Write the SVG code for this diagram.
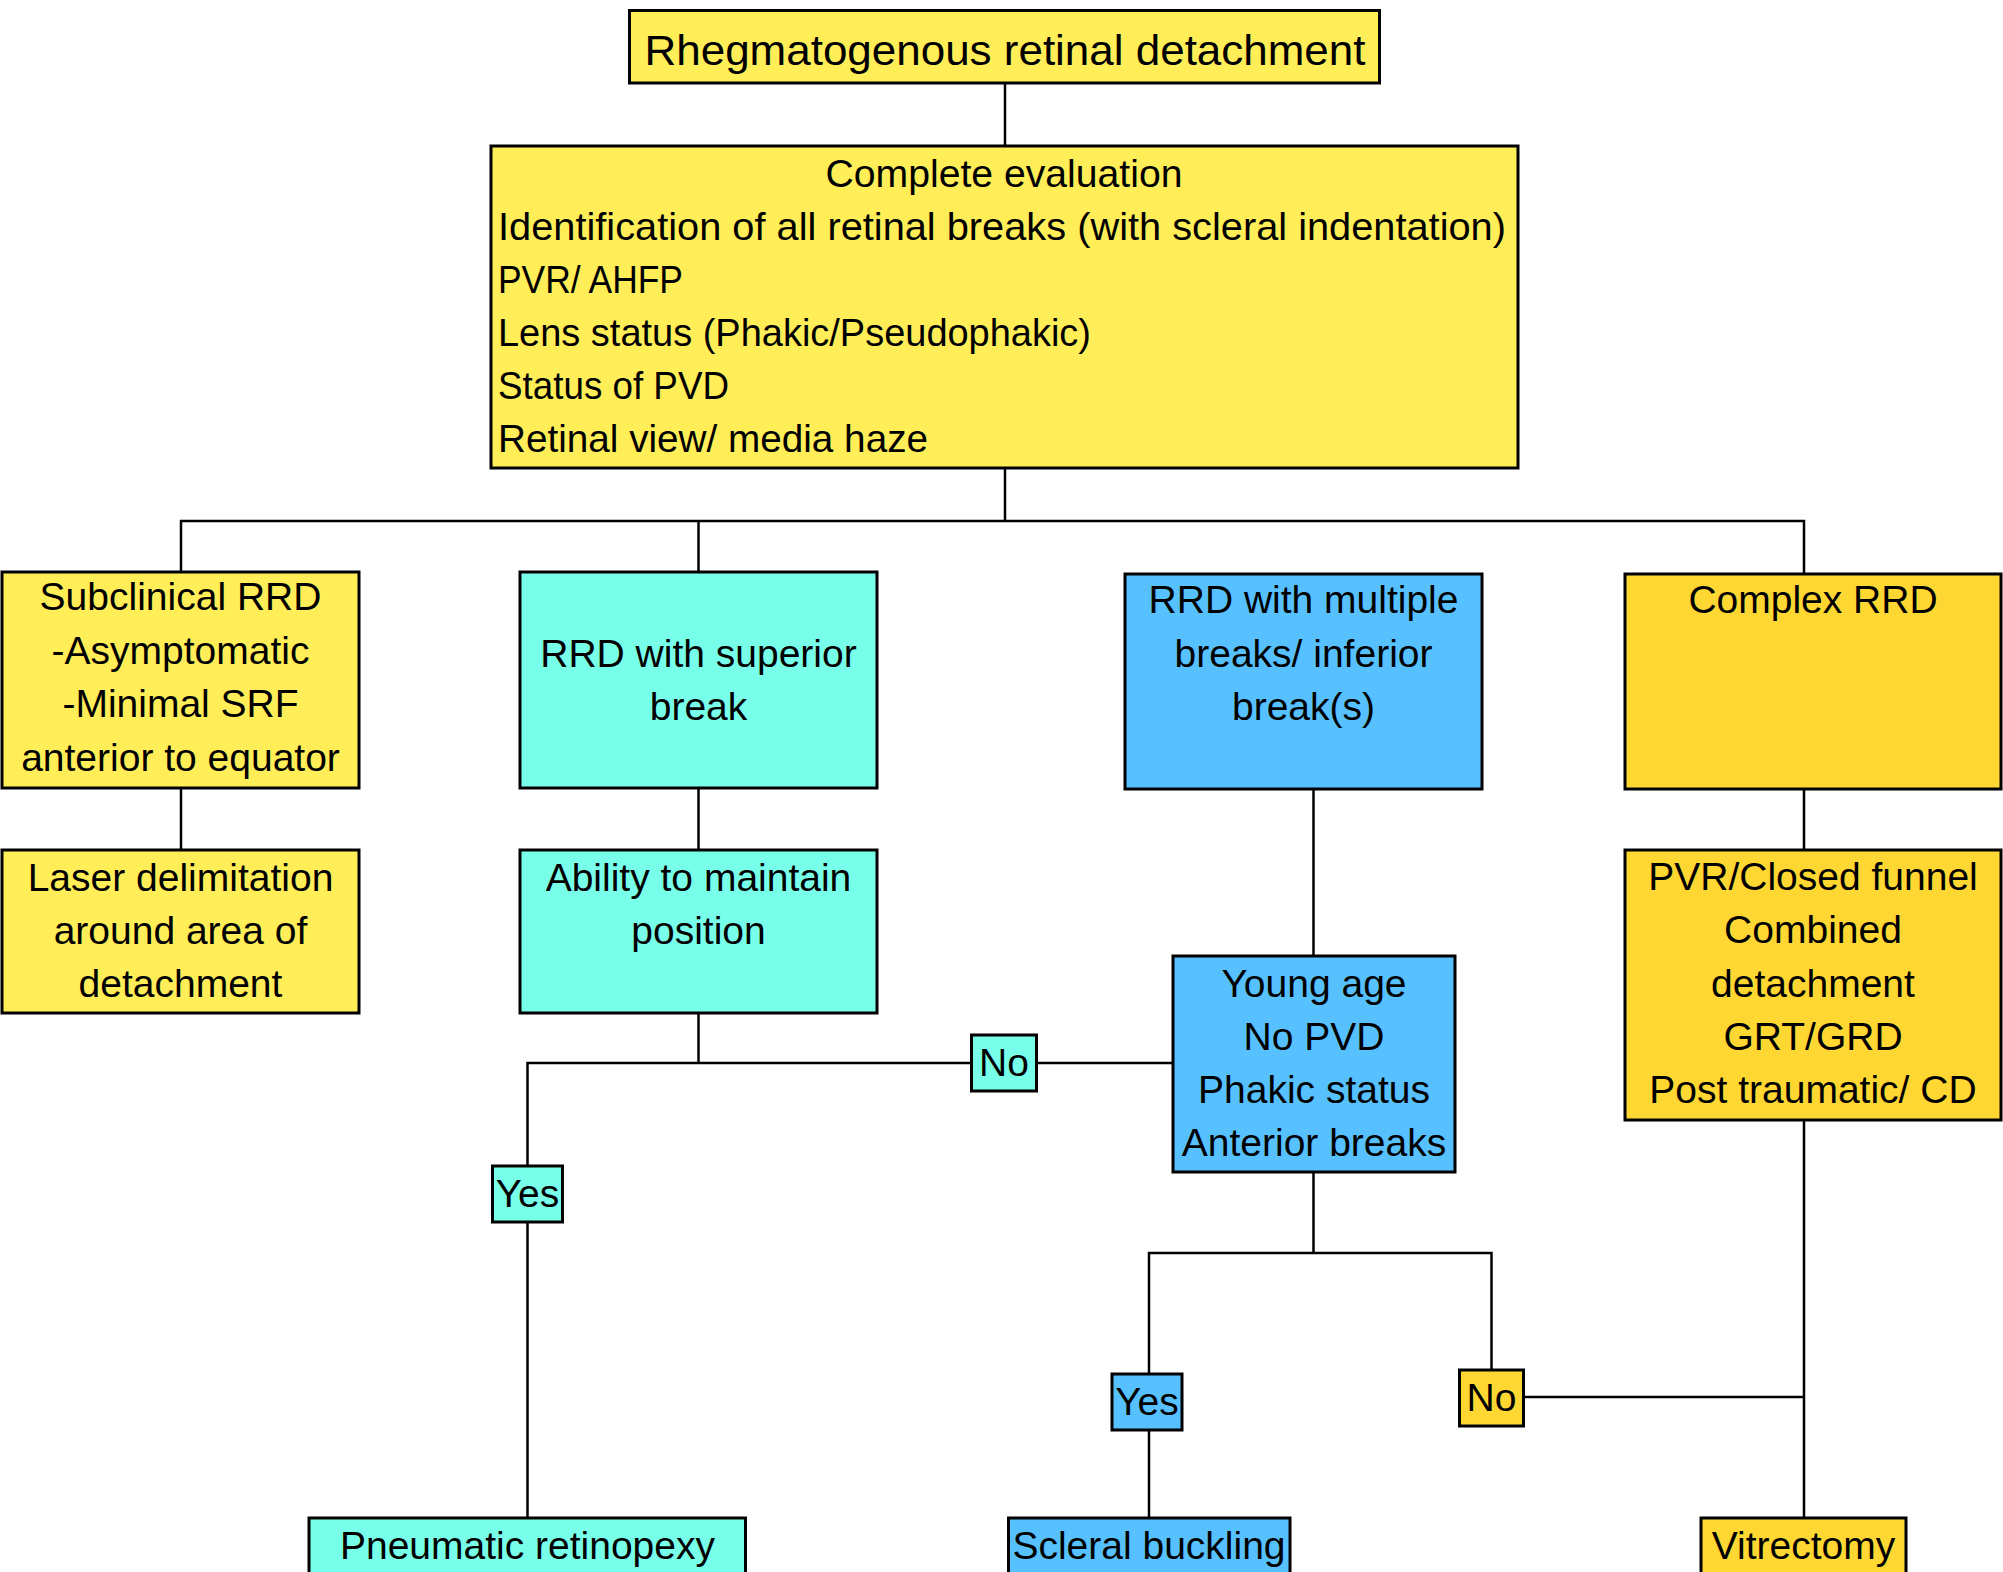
<svg xmlns="http://www.w3.org/2000/svg" width="2003" height="1572" viewBox="0 0 2003 1572">
  <style>
    .box { stroke: #000; stroke-width: 3; }
    .y { fill: #FFEE58; }
    .g { fill: #FFD733; }
    .c { fill: #78FFEA; }
    .b { fill: #57C1FF; }
    text { font-family: "Liberation Sans", Arial, sans-serif; font-size: 39px; fill: #000; }
    .m { text-anchor: middle; }
    .conn line, .conn polyline { stroke: #000; stroke-width: 2.5; fill: none; }
  </style>
  <rect width="2003" height="1572" fill="#fff"/>
  <g class="conn">
    <line x1="1005" y1="83" x2="1005" y2="146"/>
    <line x1="1005" y1="468" x2="1005" y2="521"/>
    <polyline points="181,572 181,521 1804,521 1804,574"/>
    <line x1="698.5" y1="521" x2="698.5" y2="572"/>
    <line x1="181" y1="788" x2="181" y2="850"/>
    <line x1="698.5" y1="788" x2="698.5" y2="850"/>
    <line x1="1313.5" y1="789" x2="1313.5" y2="956"/>
    <line x1="1804" y1="789" x2="1804" y2="850"/>
    <line x1="698.5" y1="1013" x2="698.5" y2="1063"/>
    <polyline points="527.5,1166 527.5,1063 971,1063"/>
    <line x1="1036.5" y1="1063" x2="1173" y2="1063"/>
    <line x1="527.5" y1="1222" x2="527.5" y2="1518"/>
    <line x1="1313.5" y1="1172" x2="1313.5" y2="1253"/>
    <polyline points="1149,1374 1149,1253 1491.5,1253 1491.5,1370"/>
    <line x1="1149" y1="1430" x2="1149" y2="1518"/>
    <line x1="1804" y1="1120" x2="1804" y2="1518"/>
    <line x1="1523" y1="1397" x2="1804" y2="1397"/>
  </g>
  <g id="n-title">
    <rect class="box y" x="629.5" y="10.5" width="750" height="72.5"/>
    <text class="m" x="1005" y="65" style="font-size:43px" textLength="721" lengthAdjust="spacingAndGlyphs">Rhegmatogenous retinal detachment</text>
  </g>
  <g id="n-eval">
    <rect class="box y" x="491" y="146" width="1027" height="322"/>
    <text class="m" x="1004" y="187" textLength="357" lengthAdjust="spacingAndGlyphs">Complete evaluation</text>
    <text x="498" y="240" textLength="1008" lengthAdjust="spacingAndGlyphs">Identification of all retinal breaks (with scleral indentation)</text>
    <text x="498" y="293" textLength="185" lengthAdjust="spacingAndGlyphs">PVR/ AHFP</text>
    <text x="498" y="346" textLength="593" lengthAdjust="spacingAndGlyphs">Lens status (Phakic/Pseudophakic)</text>
    <text x="498" y="399" textLength="231" lengthAdjust="spacingAndGlyphs">Status of PVD</text>
    <text x="498" y="452" textLength="430" lengthAdjust="spacingAndGlyphs">Retinal view/ media haze</text>
  </g>
  <g id="n-subclinical">
    <rect class="box y" x="2" y="572" width="357" height="216"/>
    <text class="m" x="180.5" y="610">Subclinical RRD</text>
    <text class="m" x="180.5" y="664">-Asymptomatic</text>
    <text class="m" x="180.5" y="717">-Minimal SRF</text>
    <text class="m" x="180.5" y="771">anterior to equator</text>
  </g>
  <g id="n-superior">
    <rect class="box c" x="520" y="572" width="357" height="216"/>
    <text class="m" x="698.5" y="667">RRD with superior</text>
    <text class="m" x="698.5" y="720">break</text>
  </g>
  <g id="n-multiple">
    <rect class="box b" x="1125" y="574" width="357" height="215"/>
    <text class="m" x="1303.5" y="613">RRD with multiple</text>
    <text class="m" x="1303.5" y="667">breaks/ inferior</text>
    <text class="m" x="1303.5" y="720">break(s)</text>
  </g>
  <g id="n-complex">
    <rect class="box g" x="1625" y="574" width="376" height="215"/>
    <text class="m" x="1813" y="613">Complex RRD</text>
  </g>
  <g id="n-laser">
    <rect class="box y" x="2" y="850" width="357" height="163"/>
    <text class="m" x="180.5" y="891">Laser delimitation</text>
    <text class="m" x="180.5" y="944">around area of</text>
    <text class="m" x="180.5" y="997">detachment</text>
  </g>
  <g id="n-ability">
    <rect class="box c" x="520" y="850" width="357" height="163"/>
    <text class="m" x="698.5" y="891">Ability to maintain</text>
    <text class="m" x="698.5" y="944">position</text>
  </g>
  <g id="n-pvr">
    <rect class="box g" x="1625" y="850" width="376" height="270"/>
    <text class="m" x="1813" y="890">PVR/Closed funnel</text>
    <text class="m" x="1813" y="943">Combined</text>
    <text class="m" x="1813" y="997">detachment</text>
    <text class="m" x="1813" y="1050">GRT/GRD</text>
    <text class="m" x="1813" y="1103">Post traumatic/ CD</text>
  </g>
  <g id="n-young">
    <rect class="box b" x="1173" y="956" width="282" height="216"/>
    <text class="m" x="1314" y="997">Young age</text>
    <text class="m" x="1314" y="1050">No PVD</text>
    <text class="m" x="1314" y="1103">Phakic status</text>
    <text class="m" x="1314" y="1156">Anterior breaks</text>
  </g>
  <g id="n-no1">
    <rect class="box c" x="971.5" y="1035" width="65" height="56"/>
    <text class="m" x="1004" y="1076">No</text>
  </g>
  <g id="n-yes1">
    <rect class="box c" x="492.5" y="1166" width="70" height="56"/>
    <text class="m" x="527.5" y="1207">Yes</text>
  </g>
  <g id="n-yes2">
    <rect class="box b" x="1112" y="1374" width="70" height="56"/>
    <text class="m" x="1147" y="1415">Yes</text>
  </g>
  <g id="n-no2">
    <rect class="box g" x="1459.5" y="1370" width="64" height="56"/>
    <text class="m" x="1491.5" y="1411">No</text>
  </g>
  <g id="n-pneumatic">
    <rect class="box c" x="309" y="1518" width="436.5" height="70"/>
    <text class="m" x="527.5" y="1559">Pneumatic retinopexy</text>
  </g>
  <g id="n-scleral">
    <rect class="box b" x="1008.5" y="1518" width="281.5" height="70"/>
    <text class="m" x="1149" y="1559">Scleral buckling</text>
  </g>
  <g id="n-vitrectomy">
    <rect class="box g" x="1701" y="1518" width="205" height="70"/>
    <text class="m" x="1803.5" y="1559">Vitrectomy</text>
  </g>
</svg>
